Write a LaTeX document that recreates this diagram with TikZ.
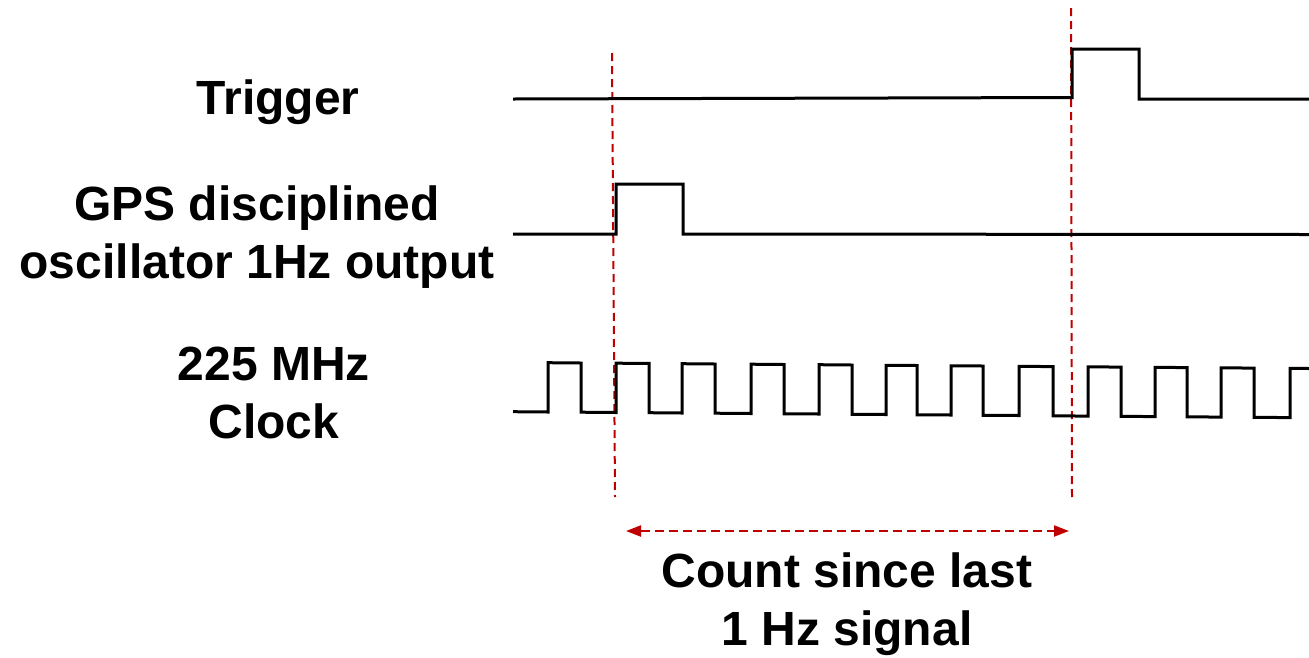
\documentclass[tikz,border=0pt]{standalone}
\usepackage{fontspec}
\newfontfamily\lbl{Liberation Sans}
\usetikzlibrary{arrows.meta}
\definecolor{markred}{RGB}{192,0,0}
\begin{document}
\begin{tikzpicture}[x=1pt,y=-1pt,
  wave/.style={line width=3pt,black,line join=miter},
  marker/.style={line width=2pt,markred,dash pattern=on 8pt off 5pt},
  span/.style={line width=2pt,markred,dash pattern=on 9pt off 5pt,
    {Triangle[length=15pt,width=11pt]}-{Triangle[length=15pt,width=11pt]}},
  label/.style={font=\lbl\bfseries\fontsize{48}{58}\selectfont,align=center,anchor=base,inner sep=0pt}]
\useasboundingbox (0,0) rectangle (1309,657);
% labels
\node[label] (trig) at (278,114) {Trigger};
\node[label] (gps) at (257,278) {GPS disciplined\\oscillator 1Hz output};
\node[label] (clk) at (274,438) {225 MHz\\Clock};
\node[label] (cnt) at (847,645) {Count since last\\1 Hz signal};
% marker lines
\coordinate (m1top) at (612,53);
\coordinate (m1bot) at (615,497);
\coordinate (m2top) at (1071,8);
\coordinate (m2bot) at (1072,500);
\draw[marker] (m1top) -- (m1bot);
\draw[marker] (m2top) -- (m2bot);
% trigger
\draw[wave] (513,99) -- (1072,97.5) -- (1072,49) -- (1139,49) -- (1139,99) -- (1309,99);
% GPS 1Hz
\draw[wave] (513,234) -- (616,234) -- (616,184) -- (683,184) -- (683,234) -- (1309,234.5);
% clock
\draw[wave] (513,411.7) -- (548,412.0) -- (548,362.7) -- (581,363.0) -- (581,412.2)
  -- (616,412.5) -- (616,363.2) -- (649,363.4) -- (649,412.7)
  -- (682,413.0) -- (682,363.7) -- (715,364.0) -- (715,413.2)
  -- (751,413.5) -- (751,364.2) -- (784,364.5) -- (784,413.8)
  -- (819,414.0) -- (819,364.7) -- (852,365.0) -- (852,414.3)
  -- (886,414.5) -- (886,365.3) -- (917,365.5) -- (917,414.8)
  -- (951,415.0) -- (951,365.8) -- (983,366.0) -- (983,415.3)
  -- (1019,415.5) -- (1019,366.3) -- (1053,366.6) -- (1053,415.8)
  -- (1088,416.1) -- (1088,366.8) -- (1121,367.1) -- (1121,416.3)
  -- (1155,416.6) -- (1155,367.3) -- (1187,367.6) -- (1187,416.8)
  -- (1221,417.1) -- (1221,367.8) -- (1254,368.1) -- (1254,417.3)
  -- (1290,417.6) -- (1290,368.3) -- (1309,368.5);
% count span
\coordinate (sL) at (626,531);
\coordinate (sR) at (1069,531);
\draw[span] (sL) -- (sR);
\end{tikzpicture}
\end{document}
